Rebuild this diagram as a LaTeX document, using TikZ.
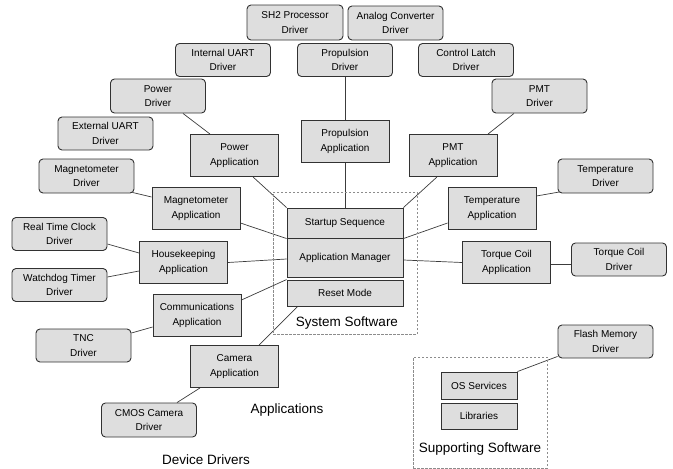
\documentclass[tikz,border=0pt]{standalone}
\usepackage{fontspec}
\setmainfont{Liberation Sans}
\usetikzlibrary{calc,backgrounds}
\definecolor{boxfill}{RGB}{222,222,222}
\definecolor{boxline}{RGB}{50,50,50}
\definecolor{conn}{RGB}{60,60,60}
\definecolor{dashc}{RGB}{140,140,140}
\tikzset{
  base/.style={draw=boxline, fill=boxfill, line width=0.9pt, align=center, inner sep=0pt,
    font=\fontsize{10}{14.5}\selectfont},
  drv/.style={base, rounded corners=4pt, minimum width=95pt, minimum height=33pt},
  app/.style={base, minimum width=88pt, minimum height=42pt},
  sysbox/.style={base, minimum width=116pt},
  supbox/.style={base, minimum width=76pt},
  conline/.style={draw=conn, line width=0.7pt},
  group/.style={draw=dashc, line width=0.6pt, dash pattern=on 2.5pt off 1.5pt},
  biglabel/.style={font=\fontsize{13.5}{16}\selectfont, inner sep=0pt}
}
\begin{document}
\begin{tikzpicture}[x=1pt,y=-1pt]
\useasboundingbox (0,0) rectangle (673,469);
% groups
\node[group, minimum width=144pt, minimum height=142pt, inner sep=0pt] (sysgrp) at (345,263) {};
\node[group, minimum width=134pt, minimum height=111pt, inner sep=0pt] (supgrp) at (480,412.5) {};
\node[biglabel] (syslbl) at (347,323) {System Software};
\node[biglabel] (suplbl) at (480,449) {Supporting Software};
\node[biglabel] (applbl) at (287,410) {Applications};
\node[biglabel] (devlbl) at (206,460) {Device Drivers};
% system software
\node[sysbox, minimum height=30pt] (startup) at (345,223) {Startup Sequence};
\node[sysbox, minimum height=39pt] (appmgr) at (345,257.5) {Application Manager};
\node[sysbox, minimum height=26pt] (reset) at (345,293) {Reset Mode};
% supporting
\node[supbox, minimum height=27pt] (os) at (479,385.5) {OS Services};
\node[supbox, minimum height=26pt] (libs) at (479,416) {Libraries};
% drivers
\node[drv, minimum width=96pt, minimum height=35pt] (sh2) at (295,22.5) {SH2 Processor\\Driver};
\node[drv, minimum height=34pt] (adc) at (395.5,23) {Analog Converter\\Driver};
\node[drv] (iuart) at (223,60) {Internal UART\\Driver};
\node[drv] (propd) at (345,60) {Propulsion\\Driver};
\node[drv] (latch) at (466,60) {Control Latch\\Driver};
\node[drv, minimum height=34pt] (powd) at (158,96) {Power\\Driver};
\node[drv, minimum height=34pt] (pmtd) at (539.5,96) {PMT\\Driver};
\node[drv] (euart) at (105.5,133.5) {External UART\\Driver};
\node[drv, minimum height=34pt] (magd) at (86.5,176) {Magnetometer\\Driver};
\node[drv, minimum height=34pt] (tempd) at (605.5,176) {Temperature\\Driver};
\node[drv] (rtcd) at (59.5,234) {Real Time Clock\\Driver};
\node[drv] (wdtd) at (59.5,285) {Watchdog Timer\\Driver};
\node[drv] (tncd) at (83.5,345.5) {TNC\\Driver};
\node[drv, minimum height=34pt] (cmosd) at (149,420) {CMOS Camera\\Driver};
\node[drv] (tqd) at (619,259.5) {Torque Coil\\Driver};
\node[drv] (flashd) at (605.5,341.5) {Flash Memory\\Driver};
% applications
\node[app] (powa) at (234.5,155.5) {Power\\Application};
\node[app] (propa) at (345,141.5) {Propulsion\\Application};
\node[app] (pmta) at (453,155.5) {PMT\\Application};
\node[app] (maga) at (196,208.5) {Magnetometer\\Application};
\node[app] (tempa) at (492,208.5) {Temperature\\Application};
\node[app] (hka) at (183.5,262.5) {Housekeeping\\Application};
\node[app] (tqa) at (506.5,262.5) {Torque Coil\\Application};
\node[app] (comma) at (197,315.5) {Communications\\Application};
\node[app] (cama) at (234.5,366.5) {Camera\\Application};
% connectors
\begin{scope}[on background layer]
\draw[conline] ($(powd.south)+(25,0)$) -- ($(powa.north)+(-24.5,0)$);
\draw[conline] ($(powa.south)+(18.5,0)$) -- (startup.north west);
\draw[conline] (propd.south) -- (propa.north);
\draw[conline] (propa.south) -- (startup.north);
\draw[conline] ($(pmtd.south)+(-25.5,0)$) -- ($(pmta.north)+(35,0)$);
\draw[conline] ($(pmta.south)+(-16,0)$) -- (startup.north east);
\draw[conline] ($(magd.south east)+(-2,-1)$) -- ($(maga.west)+(0,-11.5)$);
\draw[conline] ($(maga.east)+(0,14.5)$) -- ($(appmgr.north west)+(0,1)$);
\draw[conline] ($(tempd.south west)+(2,-1.5)$) -- ($(tempa.east)+(0,-12.5)$);
\draw[conline] ($(tempa.west)+(0,14.5)$) -- ($(appmgr.north east)+(0,1)$);
\draw[conline] ($(rtcd.east)+(0,10)$) -- ($(hka.west)+(0,-9.5)$);
\draw[conline] ($(wdtd.east)+(0,-8)$) -- ($(hka.west)+(0,8.5)$);
\draw[conline] (hka.east) -- ($(appmgr.west)+(0,1.5)$);
\draw[conline] ($(appmgr.east)+(0,2.5)$) -- (tqa.west);
\draw[conline] ($(tqa.east)+(0,1.5)$) -- ($(tqd.west)+(0,4.5)$);
\draw[conline] ($(comma.east)+(0,-15.5)$) -- (reset.north west);
\draw[conline] ($(tncd.east)+(0,-12.5)$) -- ($(comma.west)+(0,11.5)$);
\draw[conline] ($(cama.north)+(24.5,0)$) -- ($(reset.south west)+(11,0)$);
\draw[conline] ($(cmosd.north)+(28,0)$) -- ($(cama.south)+(-34.5,0)$);
\draw[conline] ($(flashd.south west)+(0,-2)$) -- (os.north east);
\end{scope}
\end{tikzpicture}
\end{document}
